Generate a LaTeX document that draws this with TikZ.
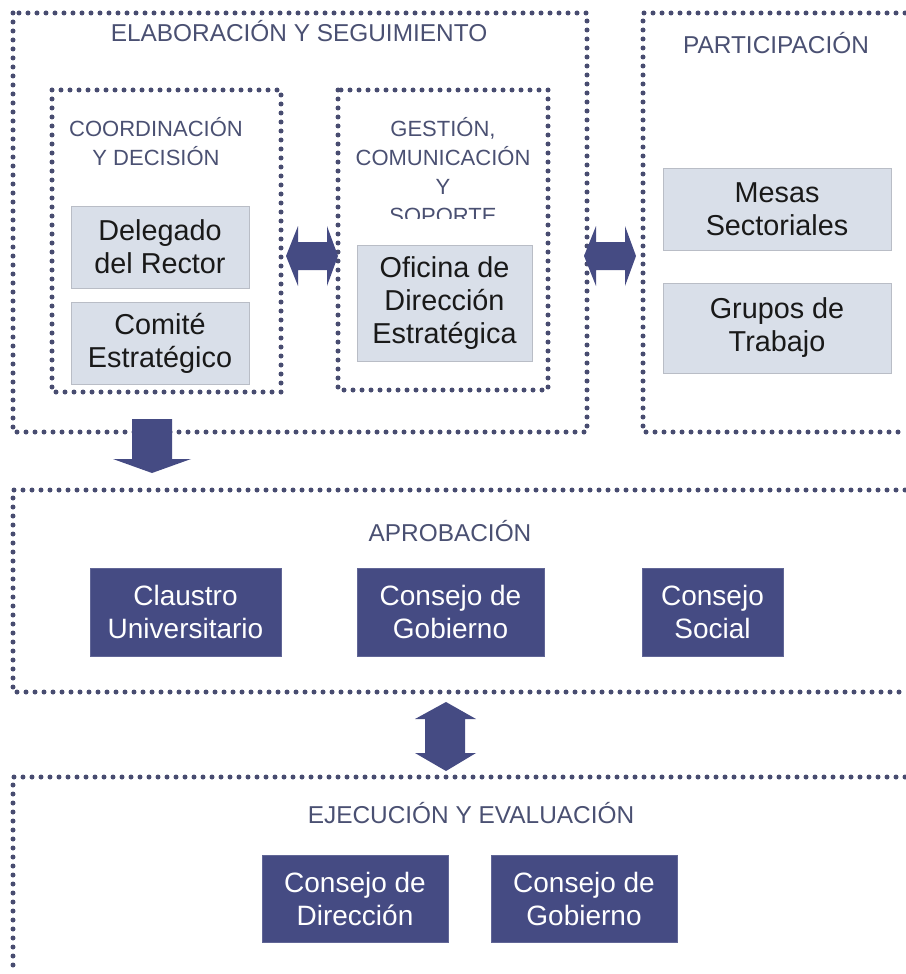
\documentclass[tikz,border=0pt]{standalone}
\usepackage{fontspec}
\setmainfont{Liberation Sans}
\usepackage{tikz}
\usetikzlibrary{positioning}
\definecolor{navy}{HTML}{454B83}
\definecolor{dotgray}{HTML}{484C70}
\definecolor{headtxt}{HTML}{4A5072}
\definecolor{paleblue}{HTML}{D9DFE9}
\definecolor{paleline}{HTML}{B9BDC6}
\tikzstyle{dots}=[dotgray, line width=2.5pt, line cap=round, dash pattern=on 0pt off 4.5pt]
\tikzstyle{head}=[headtxt, font=\fontsize{12.2}{14.5}\selectfont, align=center, inner sep=0pt]
\tikzstyle{subhead}=[headtxt, font=\fontsize{11}{14.5}\selectfont, align=center, inner sep=0pt]
\tikzstyle{lightbox}=[fill=paleblue, draw=paleline, line width=0.5pt, align=center, inner sep=0pt, font=\fontsize{14.4}{16.5}\selectfont, text=black!90]
\tikzstyle{darkbox}=[fill=navy, draw=navy!85!white, line width=0.5pt, align=center, inner sep=0pt, font=\fontsize{14}{16.5}\selectfont, text=white]
\tikzstyle{blockarrow}=[fill=navy]

\begin{document}
\begin{tikzpicture}[x=0.5pt, y=-0.5pt]
        \useasboundingbox (0,0) rectangle (905,974);
        % dotted frames
        \draw[dots] (13,13) rectangle (587,432);
        \draw[dots] (905,13) -- (643,13) -- (643,432) -- (905,432);
        \draw[dots] (52,90) rectangle (281,392);
        \draw[dots] (338,90) rectangle (548,390);
        \draw[dots] (905,490) -- (13,490) -- (13,692) -- (905,692);
        \draw[dots] (905,777) -- (13,777) -- (13,974);
        % titles
        \node[head, anchor=base] (elab) at (299,42) {ELABORACIÓN Y SEGUIMIENTO};
        \node[head, anchor=base] (partic) at (776,54) {PARTICIPACIÓN};
        \node[head, anchor=base] (aprob) at (450,541) {APROBACIÓN};
        \node[head, anchor=base] (ejec) at (471,823) {EJECUCIÓN Y EVALUACIÓN};
        \node[subhead] (coord) at (156,142) {COORDINACIÓN\\Y DECISIÓN};
        \begin{scope}
            \clip (338,90) rectangle (548,218);
            \node[subhead] (gestion) at (443,171) {GESTIÓN,\\COMUNICACIÓN\\Y\\SOPORTE};
        \end{scope}
        % boxes
        \node[lightbox, minimum width=89pt, minimum height=41pt] (delegado) at (160,247) {Delegado\\del Rector};
        \node[lightbox, minimum width=89pt, minimum height=41pt] (comite) at (160,343) {Comité\\Estratégico};
        \node[lightbox, minimum width=87.5pt, minimum height=58pt] (oficina) at (444.5,303) {Oficina de\\Dirección\\Estratégica};
        \node[lightbox, minimum width=114pt, minimum height=41pt] (mesas) at (777,209) {Mesas\\Sectoriales};
        \node[lightbox, minimum width=114pt, minimum height=45pt] (grupos) at (777,328) {Grupos de\\Trabajo};
        \node[darkbox, minimum width=95.5pt, minimum height=44pt] (claustro) at (185.5,612) {Claustro\\Universitario};
        \node[darkbox, minimum width=93.5pt, minimum height=44pt] (gobierno) at (450.5,612) {Consejo de\\Gobierno};
        \node[darkbox, minimum width=70.5pt, minimum height=44pt] (social) at (712.5,612) {Consejo\\Social};
        \node[darkbox, minimum width=93pt, minimum height=43.5pt] (direccion) at (355,898.5) {Consejo de\\Dirección};
        \node[darkbox, minimum width=93pt, minimum height=43.5pt] (gobiernob) at (584,898.5) {Consejo de\\Gobierno};
        % block arrows
        \fill[blockarrow] (286,256) -- (298,226) -- (298,242) -- (327,242) -- (327,226) -- (338,256)
            -- (327,286) -- (327,270) -- (298,270) -- (298,286) -- cycle;
        \fill[blockarrow] (584,256) -- (596,226) -- (596,242) -- (625,242) -- (625,226) -- (636,256)
            -- (625,286) -- (625,270) -- (596,270) -- (596,286) -- cycle;
        \fill[blockarrow] (132,419) -- (172,419) -- (172,459) -- (191,459) -- (152,473) -- (113,459) -- (132,459) -- cycle;
        \fill[blockarrow] (446,702) -- (476,719) -- (465,719) -- (465,753) -- (476,753) -- (446,771)
            -- (415,753) -- (425,753) -- (425,719) -- (415,719) -- cycle;
\end{tikzpicture}
\end{document}
